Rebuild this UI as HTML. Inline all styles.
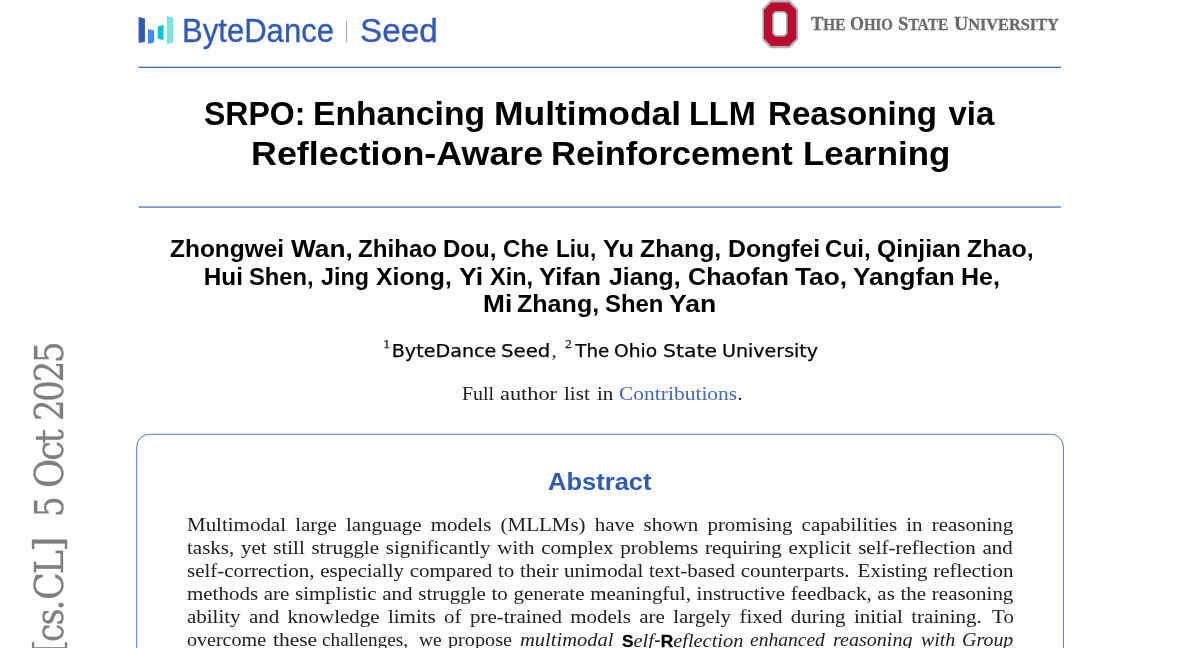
<!DOCTYPE html>
<html lang="en">
<head>
<meta charset="utf-8">
<title>SRPO: Enhancing Multimodal LLM Reasoning via Reflection-Aware Reinforcement Learning</title>
<style>
html,body{margin:0;padding:0;background:#fff;overflow:hidden;}
body{width:1200px;height:648px;position:relative;}
.page{position:absolute;left:0;top:0;width:1200px;height:648px;overflow:hidden;background:#fff;}
.g{position:absolute;left:0;top:0;}
.t{position:absolute;white-space:nowrap;margin:0;padding:0;}
.ln{position:absolute;left:0;top:0;width:0;height:0;white-space:nowrap;}
.B{font-size:19.8px;}
.s2{margin-right:3.4px !important;}
.sup{font:400 13.4px 'Liberation Serif',serif;position:relative;top:-9px;margin-right:1.4px;color:#222;-webkit-text-stroke:0.25px #222;}
.sp{display:inline-block;width:2.2px;}
.cm{font:400 19px 'Liberation Serif',serif;color:#333;-webkit-text-stroke:0;margin-left:1px;}
.sb{font:700 16.6px 'Liberation Sans',sans-serif;font-style:normal;-webkit-text-stroke:0.3px #000;color:#000;}
.hy{font-family:'Liberation Sans',sans-serif;font-style:normal;}
.side{position:absolute;left:63px;-webkit-text-stroke:0.3px #7f7f7f;top:648px;width:0;height:0;transform:rotate(-90deg);transform-origin:0 0;color:#7f7f7f;}
</style>
</head>
<body>
<div class="page">
<svg class="g" width="1200" height="648" viewBox="0 0 1200 648">
<polygon points="138.6,17 144.9,18.6 144.9,41.9 138.6,43" fill="#325ab4"/>
<polygon points="148,28.9 154,30.5 154,42.4 148,44" fill="#3c8cff"/>
<polygon points="157.7,26.4 163.5,25.1 163.5,40.3 157.7,38.6" fill="#00c8d2"/>
<polygon points="167,16 173,17.4 173,42.4 167,44.6" fill="#78e6dc"/>
<rect x="346.1" y="20.4" width="1" height="22" fill="#a9a9a9"/>
<polygon points="770.5,0.2 789.8,0.2 798,8.399999999999999 798,40.099999999999994 789.8,48.3 770.5,48.3 762.3,40.099999999999994 762.3,8.399999999999999" fill="#b0b2b4"/>
<polygon points="771.3,2.6 788.9,2.6 796.3,10.0 796.3,38.6 788.9,46 771.3,46 763.9,38.6 763.9,10.0" fill="#ba0c2f"/>
<polygon points="775.0,11.0 784.8000000000001,11.0 787.7,13.9 787.7,33.9 784.8000000000001,36.8 775.0,36.8 772.1,33.9 772.1,13.9" fill="#9c9ea0"/>
<polygon points="775.9,12.5 783.9000000000001,12.5 786.2,14.8 786.2,33.0 783.9000000000001,35.3 775.9,35.3 773.6,33.0 773.6,14.8" fill="#fff"/>
<rect x="138.6" y="66.7" width="922.4" height="1.25" fill="#4166b6"/>
<rect x="138.6" y="206.45" width="922.4" height="1.2" fill="#4166b6"/>
<rect x="136.7" y="434.3" width="926.7" height="300" rx="12.5" ry="12.5" fill="#fff" stroke="#4d72bc" stroke-width="0.95"/>
</svg>
<div class="ln " style="font:400 32.5px/40px 'Liberation Sans',sans-serif;-webkit-text-stroke:0.35px #325ab4;color:#325ab4"><span class="t" style="left:181.91px;top:11.00px;transform:scaleX(0.9561);transform-origin:0 0">ByteDance</span> <span class="t" style="left:359.52px;top:11.00px;transform:scaleX(1.0241);transform-origin:0 0">Seed</span></div>
<div class="ln " style="font:700 16.4px/30px 'Liberation Serif',serif;-webkit-text-stroke:0.3px #6a6a6a;color:#6a6a6a"><span class="t" style="left:810.77px;top:8.00px;transform:scaleX(0.9371);transform-origin:0 0"><span class="B">T</span>HE</span> <span class="t" style="left:849.59px;top:8.00px;transform:scaleX(0.9055);transform-origin:0 0"><span class="B">O</span>HIO</span> <span class="t" style="left:898.05px;top:8.00px;transform:scaleX(0.9456);transform-origin:0 0"><span class="B">S</span>TATE</span> <span class="t" style="left:954.00px;top:8.00px;transform:scaleX(0.9947);transform-origin:0 0"><span class="B">U</span>NIVERSITY</span></div>
<div class="ln " style="font:700 33px/40px 'Liberation Sans',sans-serif;color:#000"><span class="t" style="left:204.23px;top:94.00px;transform:scaleX(0.9706);transform-origin:0 0">SRPO:</span> <span class="t" style="left:312.71px;top:94.00px;transform:scaleX(1.0198);transform-origin:0 0">Enhancing</span> <span class="t" style="left:493.68px;top:94.00px;transform:scaleX(1.0746);transform-origin:0 0">Multimodal</span> <span class="t" style="left:689.04px;top:94.00px;transform:scaleX(0.9842);transform-origin:0 0">LLM</span> <span class="t" style="left:768.15px;top:94.00px;transform:scaleX(1.0021);transform-origin:0 0">Reasoning</span> <span class="t" style="left:948.50px;top:94.00px;transform:scaleX(1.0000);transform-origin:0 0">via</span></div>
<div class="ln " style="font:700 33px/40px 'Liberation Sans',sans-serif;color:#000"><span class="t" style="left:250.56px;top:134.00px;transform:scaleX(1.0866);transform-origin:0 0">Reflection-Aware</span> <span class="t" style="left:551.15px;top:134.00px;transform:scaleX(1.0464);transform-origin:0 0">Reinforcement</span> <span class="t" style="left:802.62px;top:134.00px;transform:scaleX(1.0568);transform-origin:0 0">Learning</span></div>
<div class="ln " style="font:700 24.3px/28px 'Liberation Sans',sans-serif;color:#000"><span class="t" style="left:170.49px;top:235.00px;transform:scaleX(1.0068);transform-origin:0 0">Zhongwei</span> <span class="t" style="left:291.25px;top:235.00px;transform:scaleX(1.0811);transform-origin:0 0">Wan,</span> <span class="t" style="left:358.00px;top:235.00px;transform:scaleX(0.9936);transform-origin:0 0">Zhihao</span> <span class="t" style="left:443.27px;top:235.00px;transform:scaleX(0.9901);transform-origin:0 0">Dou,</span> <span class="t" style="left:502.76px;top:235.00px;transform:scaleX(0.9943);transform-origin:0 0">Che</span> <span class="t" style="left:555.87px;top:235.00px;transform:scaleX(0.9308);transform-origin:0 0">Liu,</span> <span class="t" style="left:603.23px;top:235.00px;transform:scaleX(1.0455);transform-origin:0 0">Yu</span> <span class="t" style="left:640.49px;top:235.00px;transform:scaleX(1.0194);transform-origin:0 0">Zhang,</span> <span class="t" style="left:728.21px;top:235.00px;transform:scaleX(1.0201);transform-origin:0 0">Dongfei</span> <span class="t" style="left:825.26px;top:235.00px;transform:scaleX(0.9942);transform-origin:0 0">Cui,</span> <span class="t" style="left:877.23px;top:235.00px;transform:scaleX(1.0188);transform-origin:0 0">Qinjian</span> <span class="t" style="left:967.48px;top:235.00px;transform:scaleX(1.0280);transform-origin:0 0">Zhao,</span></div>
<div class="ln " style="font:700 24.3px/28px 'Liberation Sans',sans-serif;color:#000"><span class="t" style="left:203.75px;top:263.00px;transform:scaleX(1.0000);transform-origin:0 0">Hui</span> <span class="t" style="left:248.77px;top:263.00px;transform:scaleX(0.9765);transform-origin:0 0">Shen,</span> <span class="t" style="left:320.77px;top:263.00px;transform:scaleX(0.9581);transform-origin:0 0">Jing</span> <span class="t" style="left:375.99px;top:263.00px;transform:scaleX(1.0208);transform-origin:0 0">Xiong,</span> <span class="t" style="left:458.95px;top:263.00px;transform:scaleX(1.1013);transform-origin:0 0">Yi</span> <span class="t" style="left:489.76px;top:263.00px;transform:scaleX(0.9649);transform-origin:0 0">Xin,</span> <span class="t" style="left:539.47px;top:263.00px;transform:scaleX(1.0619);transform-origin:0 0">Yifan</span> <span class="t" style="left:608.99px;top:263.00px;transform:scaleX(1.0184);transform-origin:0 0">Jiang,</span> <span class="t" style="left:687.71px;top:263.00px;transform:scaleX(1.0369);transform-origin:0 0">Chaofan</span> <span class="t" style="left:794.73px;top:263.00px;transform:scaleX(1.0811);transform-origin:0 0">Tao,</span> <span class="t" style="left:853.21px;top:263.00px;transform:scaleX(1.0757);transform-origin:0 0">Yangfan</span> <span class="t" style="left:960.70px;top:263.00px;transform:scaleX(1.0290);transform-origin:0 0">He,</span></div>
<div class="ln " style="font:700 24.3px/28px 'Liberation Sans',sans-serif;color:#000"><span class="t" style="left:482.81px;top:290.00px;transform:scaleX(1.0809);transform-origin:0 0">Mi</span> <span class="t" style="left:516.93px;top:290.00px;transform:scaleX(1.0317);transform-origin:0 0">Zhang,</span> <span class="t" style="left:605.36px;top:290.00px;transform:scaleX(0.9834);transform-origin:0 0">Shen</span> <span class="t" style="left:669.25px;top:290.00px;transform:scaleX(1.0933);transform-origin:0 0">Yan</span></div>
<div class="ln " style="font:400 17.8px/24px 'DejaVu Sans','Liberation Sans',sans-serif;-webkit-text-stroke:0.25px #000;color:#000"><span class="t" style="left:382.52px;top:339.00px;transform:scaleX(1.0763);transform-origin:0 0"><span class="sup">1</span>ByteDance</span> <span class="t" style="left:500.89px;top:339.00px;transform:scaleX(1.1083);transform-origin:0 0">Seed<span class="cm">,</span></span> <span class="t" style="left:564.89px;top:339.00px;transform:scaleX(1.0275);transform-origin:0 0"><span class="sup s2">2</span>The</span> <span class="t" style="left:614.35px;top:339.00px;transform:scaleX(1.0497);transform-origin:0 0">Ohio</span> <span class="t" style="left:663.25px;top:339.00px;transform:scaleX(1.1492);transform-origin:0 0">State</span> <span class="t" style="left:721.99px;top:339.00px;transform:scaleX(1.0712);transform-origin:0 0">University</span></div>
<div class="ln " style="font:400 19.6px/24px 'Liberation Serif',serif;color:#202020"><span class="t" style="left:461.99px;top:382.00px;transform:scaleX(1.0163);transform-origin:0 0">Full</span> <span class="t" style="left:500.40px;top:382.00px;transform:scaleX(1.1378);transform-origin:0 0">author</span> <span class="t" style="left:563.71px;top:382.00px;transform:scaleX(1.0753);transform-origin:0 0">list</span> <span class="t" style="left:596.97px;top:382.00px;transform:scaleX(1.0690);transform-origin:0 0">in</span> <span class="t" style="left:618.90px;top:382.00px;transform:scaleX(1.0968);transform-origin:0 0"><span style="color:#4068b8">Contributions</span>.</span></div>
<div class="ln " style="font:700 24.3px/28px 'Liberation Sans',sans-serif;color:#2f5bb0"><span class="t" style="left:548.11px;top:468.00px;transform:scaleX(1.0503);transform-origin:0 0">Abstract</span></div>
<div class="t body" style="left:186.97px;top:513.00px;font:400 19.6px/24px 'Liberation Serif',serif;word-spacing:3.687px;transform:scaleX(1.0700);transform-origin:0 0;color:#202020">Multimodal large language models (MLLMs) have shown promising capabilities in reasoning</div>
<div class="t body" style="left:187.23px;top:536.00px;font:400 19.6px/24px 'Liberation Serif',serif;word-spacing:1.397px;transform:scaleX(1.0700);transform-origin:0 0;color:#202020">tasks, yet still struggle significantly with complex problems requiring explicit self-reflection and</div>
<div class="t body" style="left:186.70px;top:559.00px;font:400 19.6px/24px 'Liberation Serif',serif;word-spacing:0.402px;transform:scaleX(1.0700);transform-origin:0 0;color:#202020">self-correction, especially compared to their unimodal text-based counterparts.<span class="sp"></span> Existing reflection</div>
<div class="t body" style="left:186.97px;top:582.00px;font:400 19.6px/24px 'Liberation Serif',serif;word-spacing:0.426px;transform:scaleX(1.0700);transform-origin:0 0;color:#202020">methods are simplistic and struggle to generate meaningful, instructive feedback, as the reasoning</div>
<div class="t body" style="left:186.70px;top:605.00px;font:400 19.6px/24px 'Liberation Serif',serif;word-spacing:2.932px;transform:scaleX(1.0700);transform-origin:0 0;color:#202020">ability and knowledge limits of pre-trained models are largely fixed during initial training.<span class="sp"></span> To</div>
<div class="ln " style="font:400 19.6px/24px 'Liberation Serif',serif;color:#202020"><span class="t" style="left:186.73px;top:628.00px;transform:scaleX(1.0231);transform-origin:0 0">overcome</span> <span class="t" style="left:272.53px;top:628.00px;transform:scaleX(1.0955);transform-origin:0 0">these</span> <span class="t" style="left:322.06px;top:628.00px;transform:scaleX(0.9825);transform-origin:0 0">challenges,</span> <span class="t" style="left:418.70px;top:628.00px;transform:scaleX(0.9933);transform-origin:0 0">we</span> <span class="t" style="left:447.54px;top:628.00px;transform:scaleX(1.0311);transform-origin:0 0">propose</span></div>
<div class="ln " style="font:italic 400 19.6px/24px 'Liberation Serif',serif;color:#202020"><span class="t" style="left:520.21px;top:628.00px;transform:scaleX(1.0477);transform-origin:0 0">multimodal</span> <span class="t" style="left:622.24px;top:628.00px;transform:scaleX(1.0407);transform-origin:0 0"><b class="sb">S</b>elf<span class="hy">-</span><b class="sb">R</b>eflection</span> <span class="t" style="left:750.00px;top:628.00px;transform:scaleX(0.9973);transform-origin:0 0">enhanced</span> <span class="t" style="left:833.23px;top:628.00px;transform:scaleX(1.0230);transform-origin:0 0">reasoning</span> <span class="t" style="left:920.69px;top:628.00px;transform:scaleX(1.0171);transform-origin:0 0">with</span> <span class="t" style="left:962.18px;top:628.00px;transform:scaleX(1.0174);transform-origin:0 0">Group</span></div>
<div class="side"><span class="t" style="left:-5.79px;top:-35.50px;font:400 38.5px/40px 'DejaVu Serif','Liberation Serif',serif;letter-spacing:0.000px;transform:scaleX(0.9829);transform-origin:0 0">[</span><span class="t" style="left:6.00px;top:-33.00px;font:400 38.5px/40px 'DejaVu Serif','Liberation Serif',serif;letter-spacing:-1.949px;transform:scaleX(0.8500);transform-origin:0 0">cs.</span><span class="t" style="left:47.86px;top:-33.00px;font:400 38.5px/40px 'DejaVu Serif','Liberation Serif',serif;letter-spacing:-2.329px;transform:scaleX(0.9500);transform-origin:0 0">CL</span><span class="t" style="left:95.95px;top:-35.50px;font:400 38.5px/40px 'DejaVu Serif','Liberation Serif',serif;letter-spacing:0.000px;transform:scaleX(1.0514);transform-origin:0 0">]</span> <span class="t" style="left:130.56px;top:-33.00px;font:400 38.5px/40px 'DejaVu Serif','Liberation Serif',serif;letter-spacing:0.000px;transform:scaleX(0.8438);transform-origin:0 0">5</span> <span class="t" style="left:159.91px;top:-33.00px;font:400 38.5px/40px 'DejaVu Serif','Liberation Serif',serif;letter-spacing:-2.621px;transform:scaleX(0.9300);transform-origin:0 0">Oct</span> <span class="t" style="left:227.00px;top:-33.00px;font:400 38.5px/40px 'DejaVu Serif','Liberation Serif',serif;letter-spacing:-2.500px;transform:scaleX(0.8800);transform-origin:0 0">2025</span></div>
</div>
</body>
</html>
